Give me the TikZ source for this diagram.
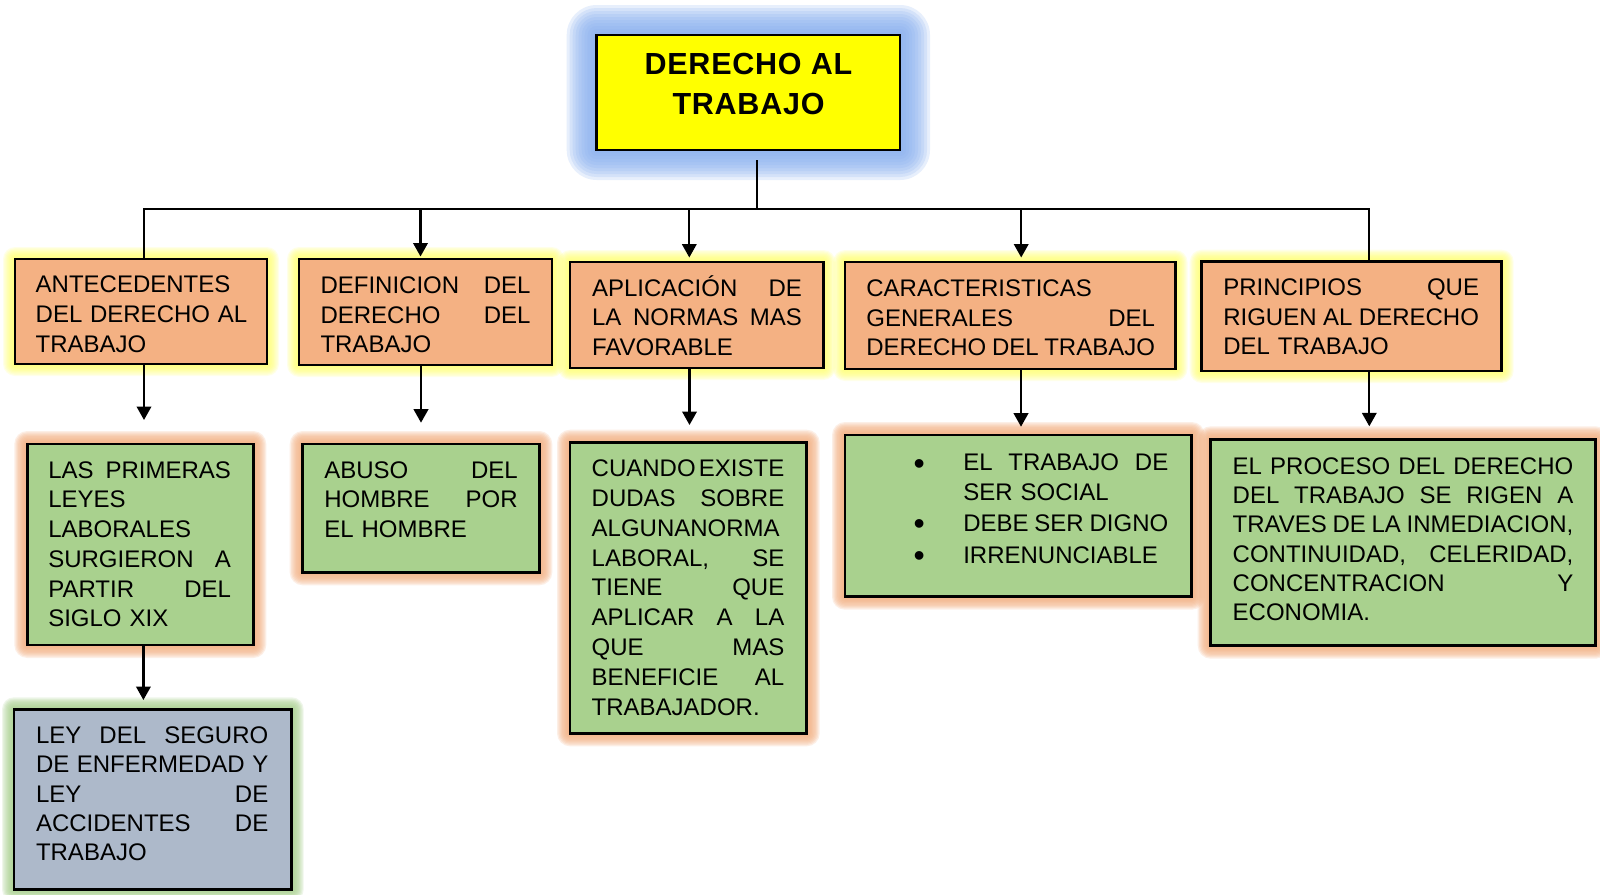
\documentclass[tikz,border=0pt]{standalone}
\usepackage{fontspec}
\setmainfont{Liberation Sans}
\newfontfamily\ttlfont[LetterSpace=2.5]{Liberation Sans}
\usetikzlibrary{arrows.meta,backgrounds,calc}
\definecolor{cyellow}{HTML}{FFFF00}
\definecolor{corange}{HTML}{F4B183}
\definecolor{cgreen}{HTML}{A9D18E}
\definecolor{cgray}{HTML}{ADB9CA}
\definecolor{gblue}{HTML}{8AB0F0}
\definecolor{gyellow}{HTML}{FFFF66}
\newcommand\jl[1]{\leavevmode\hbox to\hsize{#1}}
\newcommand\bul{\makebox[49.6pt][l]{\raisebox{-3.5pt}{\fontsize{32}{32}\selectfont\textbullet}}}
\newcommand\glow[4]{%
  \foreach \k in {1,...,10}{%
    \pgfmathsetmacro\gr{#3*\k/10}%
    \fill[#2, fill opacity=#4, rounded corners=\gr pt]
      ($(#1.south west)+(-\gr pt,-\gr pt)$) rectangle ($(#1.north east)+(\gr pt,\gr pt)$);
  }}
\tikzset{
  box/.style={draw=black, line width=2.5pt, inner sep=0pt, outer sep=0pt, anchor=north west},
  txt/.style={anchor=north west, inner sep=0pt, outer sep=0pt, align=left, font=\fontsize{24}{#1}\selectfont},
  txt/.default=29.7,
  ln/.style={line width=2.2pt, black},
  arr/.style={ln, -{Triangle[length=13.5pt,width=14.5pt]}}
}
\begin{document}
\begin{tikzpicture}[x=1pt,y=-1pt]
\useasboundingbox (0,0) rectangle (1600,894);

% title
\node[box, fill=cyellow, minimum width=303.3pt, minimum height=115pt] (T) at (596.7,35) {};
\node[anchor=north, inner sep=0pt, align=center, font=\ttlfont\bfseries\fontsize{30.5}{40}\selectfont] (Tt) at (748.5,46) {\strut DERECHO AL\\TRABAJO};

% row 1
\node[box, fill=corange, minimum width=252pt, minimum height=105pt] (n1) at (15,259) {};
\node[box, fill=corange, minimum width=253pt, minimum height=106pt] (n2) at (299,259) {};
\node[box, fill=corange, minimum width=253.5pt, minimum height=106pt] (n3) at (570,262) {};
\node[box, fill=corange, minimum width=330.5pt, minimum height=107pt] (n4) at (845,262) {};
\node[box, fill=corange, minimum width=300pt, minimum height=109.3pt] (n5) at (1201.7,261.7) {};

\node[txt, text width=211.5pt] (t1) at (35.7,272.2) {\strut ANTECEDENTES\\ \jl{DEL\hfill DERECHO\hfill AL}\\ TRABAJO};
\node[txt, text width=210pt] (t2) at (320.5,272.7) {\strut\jl{DEFINICION\hfill DEL}\\ \jl{DERECHO\hfill DEL}\\ TRABAJO};
\node[txt, text width=210pt] (t3) at (592,275.2) {\strut\jl{APLICACIÓN\hfill DE}\\ \jl{LA\hfill NORMAS\hfill MAS}\\ FAVORABLE};
\node[txt, text width=288.6pt] (t4) at (866.4,275.7) {\strut CARACTERISTICAS\\ \jl{GENERALES\hfill DEL}\\ \jl{DERECHO\hfill DEL\hfill TRABAJO}};
\node[txt, text width=255.7pt] (t5) at (1223.3,274.7) {\strut\jl{PRINCIPIOS\hfill QUE}\\ \jl{RIGUEN\hfill AL\hfill DERECHO}\\ DEL TRABAJO};

% row 2
\node[box, fill=cgreen, minimum width=226pt, minimum height=201pt] (n6) at (27.3,444) {};
\node[box, fill=cgreen, minimum width=236.6pt, minimum height=128.3pt] (n7) at (302.7,444) {};
\node[box, fill=cgreen, minimum width=236.7pt, minimum height=290.6pt] (n8) at (570,442.7) {};
\node[box, fill=cgreen, minimum width=346.7pt, minimum height=161.7pt] (n9) at (845,435) {};
\node[box, fill=cgreen, minimum width=385pt, minimum height=206.4pt] (n10) at (1210.7,439.3) {};
\node[box, fill=cgray, minimum width=277.7pt, minimum height=180pt] (n11) at (14,709.3) {};

\node[txt, text width=182.7pt] (t6) at (48.3,457.5) {\strut\jl{LAS\hfill PRIMERAS}\\ LEYES\\ LABORALES\\ \jl{SURGIERON\hfill A}\\ \jl{PARTIR\hfill DEL}\\ SIGLO XIX};
\node[txt, text width=193.4pt] (t7) at (324.3,457.5) {\strut\jl{ABUSO\hfill DEL}\\ \jl{HOMBRE\hfill POR}\\ EL HOMBRE};
\node[txt=29.8, text width=192.6pt] (t8) at (591.7,455.9) {\strut\jl{CUANDO\hfill EXISTE}\\ \jl{DUDAS\hfill SOBRE}\\ ALGUNANORMA\\ \jl{LABORAL,\hfill SE}\\ \jl{TIENE\hfill QUE}\\ \jl{APLICAR\hfill A\hfill LA}\\ \jl{QUE\hfill MAS}\\ \jl{BENEFICIE\hfill AL}\\ TRABAJADOR.};
\node[txt=30.2, text width=260pt] (t9) at (913.7,449.6) {\strut\bul\hbox to 205pt{EL\hfill TRABAJO\hfill DE}\\ \hspace*{49.6pt}SER SOCIAL\\ \bul\hbox to 205pt{DEBE\hfill SER\hfill DIGNO}\\[2pt] \bul IRRENUNCIABLE};
\node[txt=29.3, text width=340.6pt] (t10) at (1232.7,453.8) {\strut\jl{EL\hfill PROCESO\hfill DEL\hfill DERECHO}\\ \jl{DEL\hfill TRABAJO\hfill SE\hfill RIGEN\hfill A}\\ \jl{TRAVES\hfill DE\hfill LA\hfill INMEDIACION,}\\ \jl{CONTINUIDAD,\hfill CELERIDAD,}\\ \jl{CONCENTRACION\hfill Y}\\ ECONOMIA.};
\node[txt=29.4, text width=232.3pt] (t11) at (36,722.7) {\strut\jl{LEY\hfill DEL\hfill SEGURO}\\ \jl{DE\hfill ENFERMEDAD\hfill Y}\\ \jl{LEY\hfill DE}\\ \jl{ACCIDENTES\hfill DE}\\ TRABAJO};

% glows
\begin{scope}[on background layer]
  \fill[white] (0,0) rectangle (1600,894);
  \glow{T}{gblue}{30}{0.2}
  \foreach \n in {n1,n2,n3,n4,n5}{\glow{\n}{gyellow}{12}{0.14}}
  \foreach \n in {n6,n7,n8,n9,n10}{\glow{\n}{corange}{13}{0.2}}
  \glow{n11}{cgreen}{12}{0.18}
\end{scope}

% connectors
\coordinate (bus) at (756.7,209);
\coordinate (bL) at (144,209);
\coordinate (bR) at (1369.3,209);
\coordinate (d2) at (420.5,209);
\coordinate (d3) at (689.3,209);
\coordinate (d4) at (1021.2,209);
\coordinate (x1) at (144,0);
\coordinate (x2) at (421,0);
\coordinate (x3) at (689.5,0);
\coordinate (x4) at (1021,0);
\coordinate (x5) at (1369.3,0);
\coordinate (x6) at (143.4,0);

\draw[ln] ([xshift=8.35pt,yshift=-10pt]T.south) -- (bus);
\draw[ln] (bL |- n1.north) -- (bL) -- (bR) -- (bR |- n5.north);
\draw[arr, shorten >=2.5pt] (d2) -- (d2 |- n2.north);
\draw[arr, shorten >=4.5pt] (d3) -- (d3 |- n3.north);
\draw[arr, shorten >=4.5pt] (d4) -- (d4 |- n4.north);

\draw[arr, shorten >=24pt] (n1.south -| x1) -- (n6.north -| x1);
\draw[arr, shorten >=21.3pt] (n2.south -| x2) -- (n7.north -| x2);
\draw[arr, shorten >=17.7pt] (n3.south -| x3) -- (n8.north -| x3);
\draw[arr, shorten >=8.3pt] (n4.south -| x4) -- (n9.north -| x4);
\draw[arr, shorten >=13pt] (n5.south -| x5) -- (n10.north -| x5);
\draw[arr, shorten >=9.3pt] (n6.south -| x6) -- (n11.north -| x6);
\end{tikzpicture}
\end{document}
